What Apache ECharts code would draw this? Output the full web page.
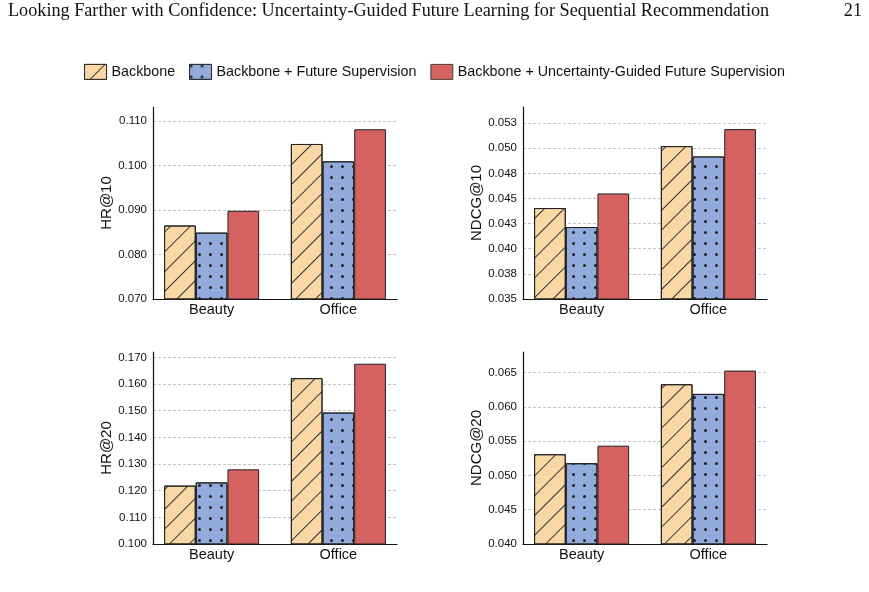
<!DOCTYPE html>
<html>
<head>
<meta charset="utf-8">
<script src="https://cdn.jsdelivr.net/npm/echarts@6/dist/echarts.min.js"></script>
<style>
  html, body { margin: 0; padding: 0; background: #fff; }
  #chart { width: 869px; height: 592px; }
</style>
</head>
<body>
<div id="chart"></div>
<script>
// categories and series
const categories = ['Beauty', 'Office'];
const seriesNames = [
  'Backbone',
  'Backbone + Future Supervision',
  'Backbone + Uncertainty-Guided Future Supervision'
];

// values per metric: [backbone, +future, +uncertainty-guided], each [Beauty, Office]
const hr10 = [[0.0865, 0.1048], [0.0849, 0.1009], [0.0898, 0.1081]];
const ndcg10 = [[0.04405, 0.05021], [0.04216, 0.04918], [0.0455, 0.0519]];
const hr20 = [[0.1219, 0.1622], [0.1231, 0.1493], [0.1280, 0.1676]];
const ndcg20 = [[0.05309, 0.0633], [0.05178, 0.06189], [0.05434, 0.06529]];

// tick labels
const hr10Ticks = ['0.070', '0.080', '0.090', '0.100', '0.110'];
const ndcg10Ticks = ['0.035', '0.038', '0.040', '0.043', '0.045', '0.048', '0.050', '0.053'];
const hr20Ticks = ['0.100', '0.110', '0.120', '0.130', '0.140', '0.150', '0.160', '0.170'];
const ndcg20Ticks = ['0.040', '0.045', '0.050', '0.055', '0.060', '0.065'];

const panels = [
  { name: 'HR@10', data: hr10, ticks: hr10Ticks, min: 0.07, max: 0.1131, interval: 0.01, left: 153, top: 107 },
  { name: 'NDCG@10', data: ndcg10, ticks: ndcg10Ticks, min: 0.035, max: 0.0541, interval: 0.0025, left: 523, top: 107 },
  { name: 'HR@20', data: hr20, ticks: hr20Ticks, min: 0.1, max: 0.172, interval: 0.01, left: 153, top: 352 },
  { name: 'NDCG@20', data: ndcg20, ticks: ndcg20Ticks, min: 0.04, max: 0.068, interval: 0.005, left: 523, top: 352 }
];

const colors = ['#F9D8A6', '#92AADC', '#D66161'];
const decals = [
  { symbol: 'rect', symbolSize: 1, dashArrayX: [1, 0], dashArrayY: [1, 13], rotation: -Math.PI / 4, color: '#333' },
  { symbol: 'circle', symbolSize: 1, dashArrayX: [2.6, 7.4], dashArrayY: [2.6, 7.4], color: '#222' },
  null
];

const font = 'Liberation Sans, Arial, sans-serif';
const chart = echarts.init(document.getElementById('chart'), null, { renderer: 'canvas' });

const grid = [], xAxis = [], yAxis = [], series = [];
panels.forEach((p, i) => {
  grid.push({ left: p.left, top: p.top, width: 244, height: 192 });
  xAxis.push({
    type: 'value', gridIndex: i, min: -0.4625, max: 1.4625,
    axisLine: { show: true, onZero: false, lineStyle: { color: '#111', width: 1.2 } },
    axisTick: { show: false },
    splitLine: { show: false },
    axisLabel: {
      customValues: [0, 1], margin: 3,
      formatter: v => categories[Math.round(v)],
      fontSize: 14.5, color: '#111', fontFamily: font
    }
  });
  yAxis.push({
    type: 'value', gridIndex: i, min: p.min, max: p.max, interval: p.interval,
    name: p.name, nameLocation: 'middle', nameGap: 36,
    nameTextStyle: { fontSize: 15, color: '#111', fontFamily: font },
    axisLine: { show: true, onZero: false, lineStyle: { color: '#111', width: 1.2 } },
    axisTick: { show: false },
    axisLabel: {
      showMaxLabel: false, margin: 6, fontSize: 11.5, color: '#111', fontFamily: font,
      formatter: v => p.ticks[Math.round((v - p.min) / p.interval)] || ''
    },
    splitLine: { show: true, showMaxLine: false, lineStyle: { color: '#b4b4b4', type: [3, 2], width: 0.8 } }
  });
  p.data.forEach((vals, k) => {
    series.push({
      type: 'bar', name: seriesNames[k], xAxisIndex: i, yAxisIndex: i,
      data: vals.map((v, j) => [j, v]),
      barWidth: '25%', barGap: '0%',
      itemStyle: {
        color: colors[k], borderColor: '#222', borderWidth: 1,
        decal: decals[k]
      },
      emphasis: { disabled: true }
    });
  });
});

const option = {
  animation: false,
  backgroundColor: '#fff',
  textStyle: { fontFamily: font },
  legend: {
    data: seriesNames, left: 'center', top: 59,
    icon: 'rect', itemWidth: 22, itemHeight: 15, itemGap: 14,
    itemStyle: { borderWidth: 0.8 },
    textStyle: { fontSize: 14.3, color: '#111', fontFamily: font }
  },
  graphic: [
    { type: 'text', left: 8, top: 2,
      style: { text: 'Looking Farther with Confidence: Uncertainty-Guided Future Learning for Sequential Recommendation',
        font: '18.2px "Liberation Serif", serif', fill: '#111' } },
    { type: 'text', right: 7, top: 2,
      style: { text: '21', font: '18.2px "Liberation Serif", serif', fill: '#111' } }
  ],
  grid, xAxis, yAxis, series
};
chart.setOption(option);
</script>
</body>
</html>
